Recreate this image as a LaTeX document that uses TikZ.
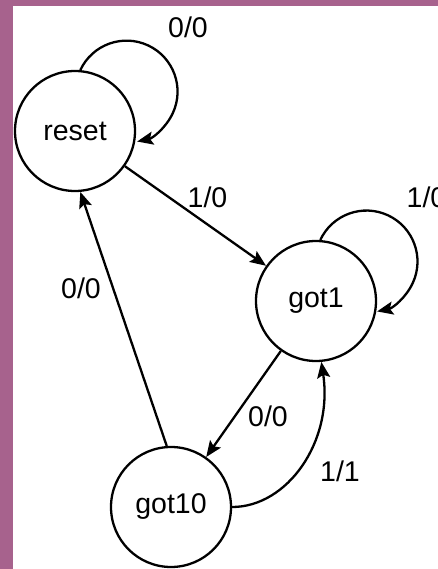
\documentclass[tikz,border=0pt]{standalone}
\usepackage{fontspec}
\setmainfont{Liberation Sans}
\usetikzlibrary{arrows.meta}
\definecolor{frame}{RGB}{167,98,141}
\begin{document}
\begin{tikzpicture}[x=1pt,y=1pt,
  state/.style={draw, circle, line width=2.3pt, minimum size=120pt, inner sep=0pt,
    font=\fontsize{28.5}{34}\selectfont},
  lbl/.style={inner sep=0pt, font=\fontsize{28.5}{34}\selectfont},
  trans/.style={line width=2.3pt, -{Stealth[length=16pt, width=13pt, inset=3pt]}}]
\useasboundingbox (0,0) rectangle (438,-569);
% page background and frame bands
\fill[white] (0,0) rectangle (438,-569);
\fill[frame] (0,0) rectangle (438,-6);
\fill[frame] (0,0) rectangle (13,-569);

% states
\node[state] (reset) at (75,-131) {reset};
\node[state] (got1)  at (316,-301) {got1};
\node[state] (got10) at (171,-507) {got10};

% self loops
\draw[trans] (reset.85) arc[start angle=155, end angle=-78, radius=51];
\draw[trans] (got1.86) arc[start angle=155, end angle=-78, radius=51];

% transitions between states
\draw[trans] (reset) -- (got1);
\draw[trans] (got1) -- (got10);
\draw[trans] (got10.94) -- (reset.-85);
\draw[trans] (got10.0) .. controls +(55,0) and +(12,-80) .. (got1.-85);

% transition labels (input/output)
\node[lbl] (l1) at (188,-27.5) {0/0};
\node[lbl] (l2) at (207.5,-197) {1/0};
\node[lbl] (l3) at (426.5,-197) {1/0};
\node[lbl] (l4) at (268,-416) {0/0};
\node[lbl] (l5) at (340,-471) {1/1};
\node[lbl] (l6) at (81,-288.5) {0/0};
\end{tikzpicture}
\end{document}
